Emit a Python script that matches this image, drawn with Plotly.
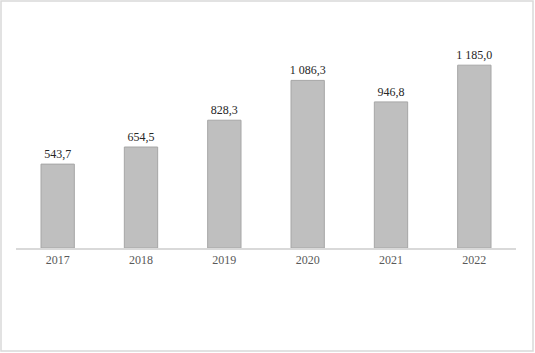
import plotly.graph_objects as go

years = ["2017", "2018", "2019", "2020", "2021", "2022"]
values = [543.7, 654.5, 828.3, 1086.3, 946.8, 1185.0]

fig = go.Figure(go.Bar(
    x=years, y=values,
    marker=dict(color="#BFBFBF", line=dict(color="#A6A6A6", width=1)),
    texttemplate="%{y:,.1f}", textposition="outside",
    textangle=0, constraintext="none",
    textfont=dict(family="Liberation Serif", size=12, color="#262626"),
    cliponaxis=False,
))

fig.update_layout(
    width=535, height=353,
    margin=dict(l=16, r=19, t=32, b=105),
    paper_bgcolor="white", plot_bgcolor="white",
    bargap=0.6, showlegend=False,
    separators=", ",
    font=dict(family="Liberation Serif", size=12, color="#595959"),
    xaxis=dict(showline=True, linecolor="#D9D9D9", linewidth=1.5, ticks="",
               showgrid=False, tickfont=dict(size=12, color="#595959")),
    yaxis=dict(visible=False, range=[0, 1400], showgrid=False),
    shapes=[dict(type="rect", xref="paper", yref="paper",
                 x0=(1 - 16) / 500, x1=(533 - 16) / 500,
                 y0=(248 - 351) / 216, y1=(248 - 1) / 216,
                 line=dict(color="#D9D9D9", width=1.5))],
)
fig.write_html("out.html")
